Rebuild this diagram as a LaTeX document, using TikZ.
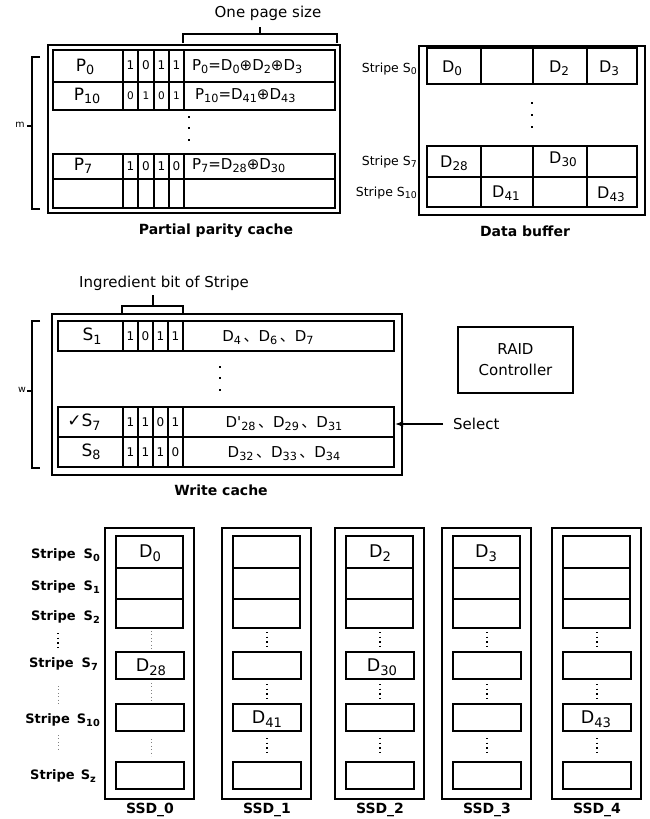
\documentclass[tikz,border=0pt]{standalone}
\usepackage{graphicx}
\usepackage{fontspec}
\setmainfont{DejaVu Sans}
\newfontfamily\cjk{Noto Sans CJK SC}
\usetikzlibrary{arrows.meta,calc}
\newcommand\sbs[1]{\raisebox{-0.2em}{\scalebox{0.75}{#1}}}
\newcommand\dun{\,{\cjk 、}}
\tikzset{
  boxl/.style={draw, line width=1.4pt},
  cl/.style={draw, line width=1.2pt},
  tx/.style={inner sep=0pt, font=\fontsize{15}{18}\selectfont},
  big/.style={inner sep=0pt, font=\fontsize{17}{20}\selectfont},
  celltx/.style={inner sep=0pt, font=\fontsize{16}{19}\selectfont},
  ssdtx/.style={inner sep=0pt, font=\fontsize{17.5}{20}\selectfont},
  bitt/.style={inner sep=0pt, font=\fontsize{12}{14}\selectfont},
  bitsm/.style={inner sep=0pt, font=\fontsize{10.5}{12}\selectfont},
  smalltx/.style={inner sep=0pt, font=\fontsize{9.5}{12}\selectfont},
  striplab/.style={inner sep=0pt, anchor=east, font=\fontsize{12.5}{15}\selectfont},
  bstrip/.style={inner sep=0pt, anchor=east, font=\bfseries\fontsize{13}{15}\selectfont},
  btitle/.style={inner sep=0pt, font=\bfseries\fontsize{14}{17}\selectfont},
  ssdlab/.style={inner sep=0pt, font=\bfseries\fontsize{14}{17}\selectfont},
  sqdot/.style={fill=black},
  dotsb/.style={line width=1.4pt, dash pattern=on 1.4pt off 3.2pt},
  dotsf/.style={line width=0.7pt, gray, dash pattern=on 0.8pt off 2.6pt},
  thk/.style={line width=2.8pt},
}
\begin{document}
\begin{tikzpicture}[x=1pt,y=-1pt]
\useasboundingbox (0,0) rectangle (650,819);
\fill[white] (0,0) rectangle (650,819);

% ---------------- Partial parity cache ----------------
\node[tx] (ops) at (268,13) {One page size};
\draw[cl] (183,43) -- (183,34) -- (337,34) -- (337,43);
\draw[cl] (260,34) -- (260,27);
\node[boxl, minimum width=292pt, minimum height=168pt, inner sep=0pt] (ppc) at (194,129) {};
\foreach \ya/\yb in {50/82,82/110,154/179,179/208}{
  \draw[cl] (53,\ya) rectangle (335,\yb);
  \foreach \xx in {123,138,154,169,184} \draw[cl] (\xx,\ya) -- (\xx,\yb);
}
\draw[thk] (240,82) -- (290,82);
\draw[thk] (240,110) -- (260,110);
\draw[thk] (255,154) -- (267,154);
\draw[thk] (247,179) -- (262,179);
\draw[thk] (247,208) -- (262,208);
\node[big] (p0) at (85,67) {P\sbs{0}};
\node[big] (p10) at (87,96) {P\sbs{10}};
\node[big] (p7) at (83,166) {P\sbs{7}};
\foreach \b [count=\i] in {1,0,1,1}{
  \pgfmathsetmacro\xc{{130.5,146,161.5,176.5}[\i-1]}
  \node[bitt] (ba\i) at (\xc,65) {\b};
}
\foreach \b [count=\i] in {0,1,0,1}{
  \pgfmathsetmacro\xc{{130.5,146,161.5,176.5}[\i-1]}
  \node[bitsm] (bb\i) at (\xc,96) {\b};
}
\foreach \b [count=\i] in {1,0,1,0}{
  \pgfmathsetmacro\xc{{130.5,146,161.5,176.5}[\i-1]}
  \node[bitt] (bc\i) at (\xc,166) {\b};
}
\node[tx, anchor=west] (f0) at (192,67) {P\sbs{0}=D\sbs{0}⊕D\sbs{2}⊕D\sbs{3}};
\node[tx, anchor=west] (f10) at (195,96) {P\sbs{10}=D\sbs{41}⊕D\sbs{43}};
\node[tx, anchor=west] (f7) at (192,166) {P\sbs{7}=D\sbs{28}⊕D\sbs{30}};
\foreach \yy in {117,128,140} \fill[sqdot] (187.7,\yy-1.3) rectangle (190.3,\yy+1.3);
\draw[cl] (40,57) -- (32,57) -- (32,209) -- (40,209);
\draw[cl] (32,126) -- (27,126);
\node[smalltx] (mlab) at (20,125) {m};
\node[btitle] (ppct) at (216,231) {Partial parity cache};

% ---------------- Data buffer ----------------
\node[boxl, minimum width=226pt, minimum height=169pt, inner sep=0pt] (dbuf) at (532,130.5) {};
\foreach \ya/\yb in {48/84,146/177,177/207}{
  \draw[cl] (427,\ya) rectangle (637,\yb);
  \foreach \xx in {481,533,587} \draw[cl] (\xx,\ya) -- (\xx,\yb);
}
\foreach \yy in {103,115,127} \fill[sqdot] (530.7,\yy-1.3) rectangle (533.3,\yy+1.3);
\node[striplab] (ls0) at (417,69) {Stripe S\sbs{0}};
\node[striplab] (ls7) at (417,162) {Stripe S\sbs{7}};
\node[striplab] (ls10) at (417,193) {Stripe S\sbs{10}};
\node[celltx] (bd0) at (452,68) {D\sbs{0}};
\node[celltx] (bd2) at (559,68) {D\sbs{2}};
\node[celltx] (bd3) at (609,68) {D\sbs{3}};
\node[celltx] (bd28) at (454,163) {D\sbs{28}};
\node[celltx] (bd30) at (563,159) {D\sbs{30}};
\node[celltx] (bd41) at (506,193) {D\sbs{41}};
\node[celltx] (bd43) at (611,194) {D\sbs{43}};
\node[btitle] (dbt) at (525,231) {Data buffer};

% ---------------- Write cache ----------------
\node[tx] (ibs) at (164,283) {Ingredient bit of Stripe};
\draw[cl] (122,313) -- (122,306) -- (183,306) -- (183,313);
\draw[cl] (153,306) -- (153,295);
\node[boxl, minimum width=350pt, minimum height=161pt, inner sep=0pt] (wc) at (227,394.5) {};
\foreach \ya/\yb in {321/351,407/437,437/467}{
  \draw[cl] (58,\ya) rectangle (394,\yb);
  \foreach \xx in {123,138,153,168,183} \draw[cl] (\xx,\ya) -- (\xx,\yb);
}
\foreach \yy in {367,378,390} \fill[sqdot] (218.7,\yy-1.3) rectangle (221.3,\yy+1.3);
\node[big] (s1) at (92,336) {S\sbs{1}};
\node[big] (s7) at (84,422) {✓S\sbs{7}};
\node[big] (s8) at (91,452) {S\sbs{8}};
\foreach \b [count=\i] in {1,0,1,1}{
  \pgfmathsetmacro\xc{{130.5,145.5,160.5,175.5}[\i-1]}
  \node[bitt] (wa\i) at (\xc,336) {\b};
}
\foreach \b [count=\i] in {1,1,0,1}{
  \pgfmathsetmacro\xc{{130.5,145.5,160.5,175.5}[\i-1]}
  \node[bitt] (wb\i) at (\xc,422) {\b};
}
\foreach \b [count=\i] in {1,1,1,0}{
  \pgfmathsetmacro\xc{{130.5,145.5,160.5,175.5}[\i-1]}
  \node[bitt] (wd\i) at (\xc,452) {\b};
}
\node[tx] (wl1) at (268,338) {D\sbs{4}\dun D\sbs{6}\dun D\sbs{7}};
\node[tx] (wl7) at (284,424) {D\textquotesingle\sbs{28}\dun D\sbs{29}\dun D\sbs{31}};
\node[tx] (wl8) at (284,454) {D\sbs{32}\dun D\sbs{33}\dun D\sbs{34}};
\draw[cl] (40,321) -- (32,321) -- (32,468) -- (40,468);
\draw[cl] (32,391) -- (27,391);
\node[smalltx] (wlab) at (22,390) {w};
\node[btitle] (wct) at (221,490) {Write cache};

% ---------------- RAID controller & Select ----------------
\node[draw, line width=1.2pt, minimum width=115pt, minimum height=66pt, align=center,
      font=\fontsize{15}{21}\selectfont] (raid) at (515.5,360) {RAID\\Controller};
\node[tx, anchor=west] (sel) at (453,424) {Select};
\coordinate (selpt) at (395,424);
\draw[line width=1.1pt, -{Latex[length=8pt,width=6pt]}] ($(sel.west)+(-10,0)$) -- (selpt);

% ---------------- SSDs ----------------
\foreach \x/\n in {105/0,222/1,335/2,442/3,552/4}{
  \draw[boxl] (\x,528) rectangle (\x+89,799);
  \draw[cl] (\x+11,536) rectangle (\x+78,568);
  \draw[cl] (\x+11,568) rectangle (\x+78,599);
  \draw[cl] (\x+11,599) rectangle (\x+78,628);
  \draw[cl] (\x+11,652) rectangle (\x+79,679);
  \draw[cl] (\x+11,704) rectangle (\x+79,731);
  \draw[cl] (\x+11,762) rectangle (\x+79,789);
  \node[ssdlab] (ssd\n) at (\x+45,810) {SSD\_\n};
}
\foreach \x in {222,335,442,552}{
  \draw[dotsb] (\x+45,632) -- (\x+45,650);
  \draw[dotsb] (\x+45,684) -- (\x+45,702);
  \draw[dotsb] (\x+45,738) -- (\x+45,756);
}
\draw[dotsf] (151,631) -- (151,649);
\draw[dotsf] (151,683) -- (151,701);
\draw[dotsf] (151,739) -- (151,756);
\node[ssdtx] (sd0) at (150,553) {D\sbs{0}};
\node[ssdtx] (sd28) at (151,667) {D\sbs{28}};
\node[ssdtx] (sd41) at (267,719) {D\sbs{41}};
\node[ssdtx] (sd2) at (380,553) {D\sbs{2}};
\node[ssdtx] (sd30) at (382,667) {D\sbs{30}};
\node[ssdtx] (sd3) at (486,553) {D\sbs{3}};
\node[ssdtx] (sd43) at (596,719) {D\sbs{43}};
\node[bstrip] (st0) at (100,555) {Stripe\hspace{8pt}S\sbs{0}};
\node[bstrip] (st1) at (100,587) {Stripe\hspace{8pt}S\sbs{1}};
\node[bstrip] (st2) at (100,617) {Stripe\hspace{8pt}S\sbs{2}};
\node[bstrip] (st7) at (98,664) {Stripe\hspace{8pt}S\sbs{7}};
\node[bstrip] (st10) at (100,720) {Stripe\hspace{7pt}S\sbs{10}};
\node[bstrip] (stz) at (96,776) {Stripe\hspace{6pt}S\sbs{z}};
\draw[dotsb] (58,633) -- (58,651);
\draw[dotsf] (58,686) -- (58,704);
\draw[dotsf] (58,735) -- (58,751);
\end{tikzpicture}
\end{document}
